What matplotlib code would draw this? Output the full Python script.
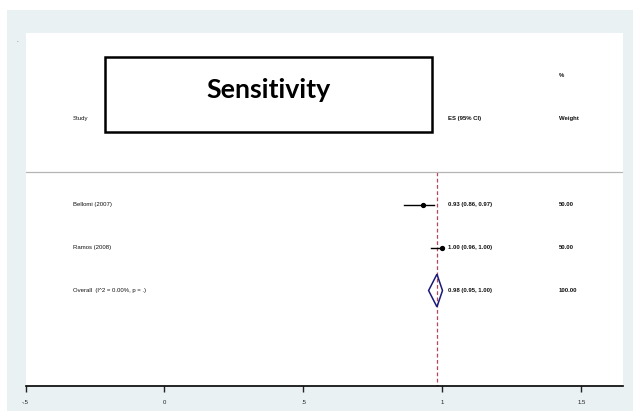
import matplotlib
matplotlib.use("Agg")
import matplotlib.pyplot as plt
from matplotlib.patches import Rectangle, Polygon

# Study-level estimates
studies = ["Bellomi (2007)", "Ramos (2008)"]
es = [0.93, 1.00]
lo = [0.86, 0.96]
hi = [0.97, 1.00]
weights = ["50.00", "50.00"]

# Pooled estimate
overall_label = "Overall  (I^2 = 0.00%, p = .)"
overall_es = 0.98
overall_lo = 0.95
overall_hi = 1.00
overall_weight = "100.00"

xticks = [-0.5, 0, 0.5, 1, 1.5]
xticklabels = ["-.5", "0", ".5", "1", "1.5"]

W, H = 633, 411
fig = plt.figure(figsize=(W / 100, H / 100), dpi=100)
fig.patch.set_facecolor("white")

def fx(px):
    return px / W

def fy(py):
    return 1 - py / H

# light backdrop
bg = fig.add_axes([fx(7), 0, fx(W - 7), fy(10)], zorder=0)
bg.set_facecolor("#eaf1f3")
bg.set_axis_off()
bg.add_patch(Rectangle((0, 0), 1, 1, transform=bg.transAxes, facecolor="#eaf1f3",
                       edgecolor="none"))
bg.text((17 - 7) / (W - 7), 1 - (41 - 10) / (H - 10), ".", fontsize=4, ha="center",
        va="center", color="#333333")

# plot region
left_px, right_px, top_px, bot_px = 25.5, 623, 33, 386
ax = fig.add_axes([fx(left_px), fy(bot_px), fx(right_px - left_px), (bot_px - top_px) / H],
                  zorder=1)
ax.set_facecolor("white")
x0 = -0.5
ppu = 278.0
ax.set_xlim(x0, x0 + (right_px - left_px) / ppu)
ax.set_ylim(5.22, -2.99)

for s in ["left", "top", "right"]:
    ax.spines[s].set_visible(False)
ax.spines["bottom"].set_linewidth(1.2)
ax.set_yticks([])
ax.set_xticks(xticks)
ax.set_xticklabels(xticklabels, fontsize=4.3, family="Liberation Sans")
ax.tick_params(axis="x", direction="out", length=4, width=1, pad=6, colors="#222222")

small = dict(fontsize=4.3, family="Liberation Sans", va="center", color="#111111")
col_study, col_es, col_w = -0.33, 1.019, 1.418

# header
ax.text(col_study, -1, "Study", ha="left", **small)
ax.text(col_es, -1, "ES (95% CI)", ha="left", fontweight="bold", **small)
ax.text(col_w, -1, "Weight", ha="left", fontweight="bold", **small)
ax.text(col_w, -2, "%", ha="left", fontweight="bold", **small)

# separator line
ax.axhline(0.24, color="#b5b5b5", lw=0.9)

# title box
ax.add_patch(Rectangle((-0.213, -2.43), 1.177, 1.75, facecolor="white", edgecolor="black",
                       lw=1.8, zorder=3))
ax.text((-0.213 + 0.964) / 2, -1.474, "Sensitivity", ha="center", va="baseline",
        fontsize=19.3, fontweight="bold", family="Lato", zorder=4)

# reference line at pooled estimate
ax.plot([overall_es, overall_es], [0.24, 5.22], color="#b5475a", lw=0.9, ls=(0, (3, 2)),
        zorder=1)

# studies
for i, (name, e, l, h, w) in enumerate(zip(studies, es, lo, hi, weights)):
    y = i + 1
    ax.plot([l, h], [y, y], color="black", lw=1.0, zorder=2)
    ax.plot([e], [y], "o", color="black", ms=2.8, zorder=2)
    ax.text(col_study, y, name, ha="left", **small)
    ax.text(col_es, y, f"{e:.2f} ({l:.2f}, {h:.2f})", ha="left", fontweight="bold", **small)
    ax.text(col_w, y, w, ha="left", fontweight="bold", **small)

# pooled diamond
yo = len(studies) + 1
dh = 0.38
ax.add_patch(Polygon([[overall_lo, yo], [overall_es, yo - dh], [overall_hi, yo],
                      [overall_es, yo + dh]], closed=True, facecolor="none",
                     edgecolor="#1a1a7a", lw=1.1, zorder=2))
ax.text(col_study, yo, overall_label, ha="left", **small)
ax.text(col_es, yo, f"{overall_es:.2f} ({overall_lo:.2f}, {overall_hi:.2f})", ha="left",
        fontweight="bold", **small)
ax.text(col_w, yo, overall_weight, ha="left", fontweight="bold", **small)

fig.savefig("out.png", dpi=100)
